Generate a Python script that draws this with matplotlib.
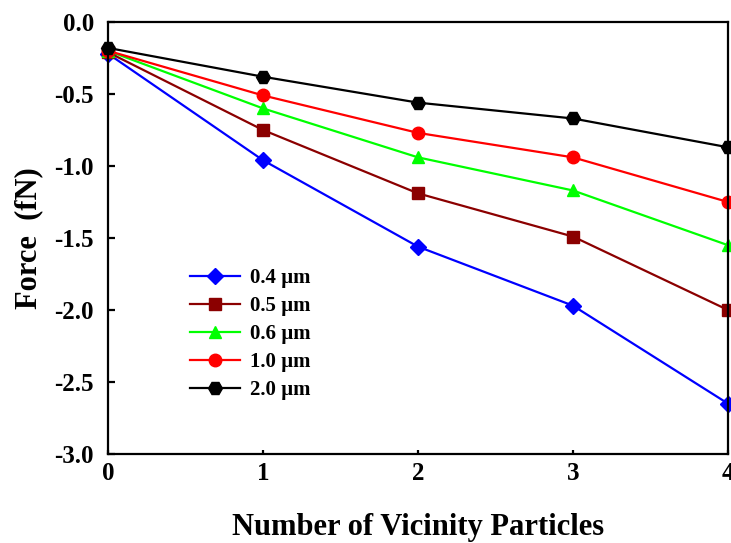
import matplotlib
matplotlib.use('Agg')
import matplotlib.pyplot as plt

particles = [0, 1, 2, 3, 4]
labels = ['0.4 µm', '0.5 µm', '0.6 µm', '1.0 µm', '2.0 µm']
force_04 = [-0.22, -0.96, -1.56, -1.97, -2.65]
force_05 = [-0.21, -0.75, -1.19, -1.49, -2.00]
force_06 = [-0.20, -0.60, -0.94, -1.17, -1.55]
force_10 = [-0.20, -0.51, -0.77, -0.94, -1.25]
force_20 = [-0.18, -0.38, -0.56, -0.67, -0.87]

series = [force_04, force_05, force_06, force_10, force_20]
colors = ['#0000FF', '#8B0000', '#00FF00', '#FF0000', '#000000']
markers = ['D', 's', '^', 'o', 'H']
sizes = [8, 9, 9, 9, 10]

plt.rcParams['font.family'] = ['Liberation Serif', 'DejaVu Serif']
plt.rcParams['font.weight'] = 'bold'

fig = plt.figure(figsize=(7.31, 5.43), dpi=100)
ax = fig.add_axes([108 / 731, 89 / 543, 620 / 731, 432 / 543])

for values, color, marker, size, label in zip(series, colors, markers, sizes, labels):
    ax.plot(particles, values, color=color, marker=marker, markersize=size,
            linewidth=1.6, label=label, clip_on=False)

ax.set_xlim(0, 4)
ax.set_ylim(-3.0, 0.0)
ax.set_xticks([0, 1, 2, 3, 4])
ax.set_yticks([0.0, -0.5, -1.0, -1.5, -2.0, -2.5, -3.0])
ax.set_yticklabels(['0.0', '-0.5', '-1.0', '-1.5', '-2.0', '-2.5', '-3.0'])

for spine in ax.spines.values():
    spine.set_linewidth(1.6)

ax.tick_params(axis='y', direction='in', length=5, width=1.6, pad=10, labelsize=18)
ax.tick_params(axis='x', direction='in', length=3, width=1.6, pad=6, labelsize=18)
for lbl in ax.get_xticklabels() + ax.get_yticklabels():
    lbl.set_fontweight('bold')

ax.set_xlabel('Number of Vicinity Particles', fontsize=22, fontweight='bold', labelpad=20)
ax.set_ylabel('Force  (fN)', fontsize=22, fontweight='bold', labelpad=8)

ax.legend(loc='upper left', bbox_to_anchor=(0.132, 0.43), frameon=False,
          borderpad=0, borderaxespad=0, handlelength=2.4, handletextpad=0.5,
          labelspacing=0.38, prop={'size': 15, 'weight': 'bold'})

fig.savefig('out.png', dpi=100)
